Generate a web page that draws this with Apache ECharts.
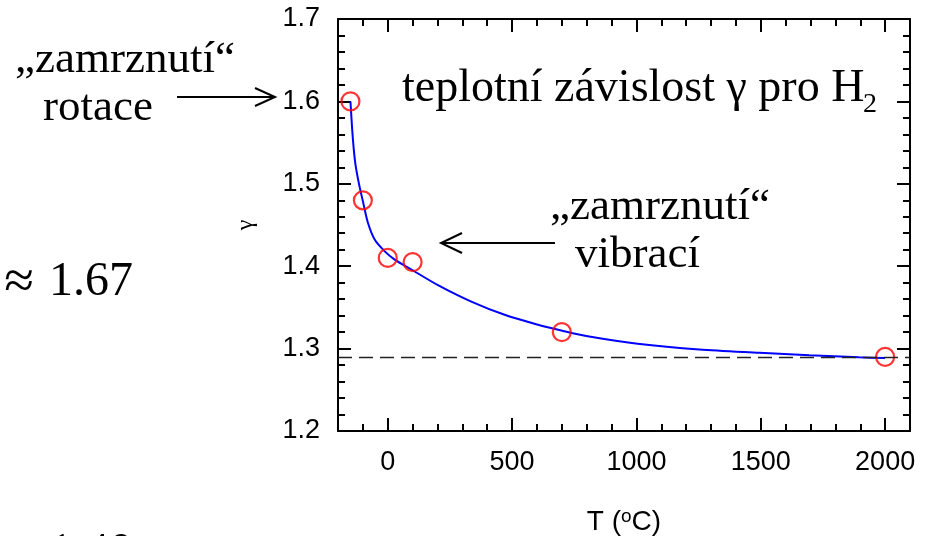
<!DOCTYPE html>
<html>
<head>
<meta charset="utf-8">
<title>teplotní závislost γ pro H2</title>
<script src="https://cdn.jsdelivr.net/npm/echarts@6/dist/echarts.min.js"></script>
<style>
    html, body { margin: 0; padding: 0; background: #fff; }
    #box { width: 927px; height: 536px; }
</style>
</head>
<body>
<div id="box"></div>
<script>
/*naměřené body*/
var measT = [-150, -100, 0, 100, 700, 2000];
var measGamma = [1.60, 1.48, 1.41, 1.405, 1.32, 1.29];

/*proložená křivka*/
var curveT = [-150, -140, -130, -115, -100, -80, -52, -12, 28, 95, 202, 336, 470, 604, 698, 804, 1005, 1253, 1495, 1695, 1895, 2000];
var curveGamma = [1.600, 1.554, 1.524, 1.499, 1.479, 1.453, 1.432, 1.418, 1.408, 1.396, 1.377, 1.357, 1.341, 1.329, 1.322, 1.315, 1.306, 1.299, 1.295, 1.292, 1.2895, 1.2885];

/*limitní hodnota 9/7*/
var limitGamma = 1.286;

/*popisky os*/
var xMajorTicks = [0, 500, 1000, 1500, 2000];

var makePairs = function (xs, ys) {
    var out = [];
    xs.forEach(function (x, i) {
        out.push([x, ys[i]]);
    });
    return out;
};

var black = '#000';
var tickStyle = { color: black, width: 2 };
var labelFont = { fontFamily: 'Liberation Sans', fontSize: 27, color: black };

/*x osy: jemné a hlavní dílky, dole i nahoře*/
var xMinor = function (pos) {
    return {
        type: 'value', position: pos, min: -200, max: 2100, interval: 100,
        axisLine: { onZero: false, lineStyle: tickStyle },
        axisTick: { inside: true, length: 7, lineStyle: tickStyle },
        axisLabel: { show: false },
        splitLine: { show: false }
    };
};
var xMajor = function (pos, withLabels) {
    var axis = {
        type: 'value', position: pos, min: -200, max: 2100,
        axisLine: { show: false, onZero: false },
        axisTick: { inside: true, length: 13, customValues: xMajorTicks, lineStyle: tickStyle },
        axisLabel: { show: withLabels, customValues: xMajorTicks, margin: 18,
            fontFamily: labelFont.fontFamily, fontSize: labelFont.fontSize, color: black,
            formatter: function (v) { return String(v); } },
        splitLine: { show: false }
    };
    if (withLabels) {
        axis.name = '{t|T (}{s|o}{t|C)}';
        axis.nameLocation = 'middle';
        axis.nameGap = 76;
        axis.nameTextStyle = {
            rich: {
                t: { fontFamily: 'Liberation Sans', fontSize: 28, color: black },
                s: { fontFamily: 'Liberation Sans', fontSize: 19, color: black, padding: [0, 0, 12, 0] }
            }
        };
    }
    return axis;
};
var yAxisOf = function (pos, withLabels) {
    var axis = {
        type: 'value', position: pos, min: 1.2, max: 1.7, interval: 0.1,
        axisLine: { onZero: false, lineStyle: tickStyle },
        axisTick: { inside: true, length: 13, lineStyle: tickStyle },
        minorTick: { show: true, splitNumber: 5, length: 7, lineStyle: tickStyle },
        axisLabel: { show: withLabels, margin: 18,
            fontFamily: labelFont.fontFamily, fontSize: labelFont.fontSize, color: black,
            formatter: function (v) { return v.toFixed(1); } },
        splitLine: { show: false }
    };
    if (withLabels) {
        axis.name = 'γ';
        axis.nameLocation = 'middle';
        axis.nameRotate = 90;
        axis.nameGap = 80;
        axis.nameTextStyle = { fontFamily: 'Liberation Serif', fontSize: 24, color: black };
    }
    return axis;
};

var serif = '"Liberation Serif", "Times New Roman", serif';
var textEl = function (text, x, y, size, align) {
    return {
        type: 'text', x: x, y: y, silent: true,
        style: { text: text, font: size + 'px ' + serif, fill: black,
            align: align || 'left', verticalAlign: 'middle' }
    };
};
var lineEl = function (points) {
    return {
        type: 'polyline', silent: true,
        shape: { points: points },
        style: { stroke: black, lineWidth: 2, fill: null }
    };
};

var box = document.getElementById('box');
var myChart = echarts.init(box);
var options = {
    animation: false,
    backgroundColor: '#fff',
    grid: { left: 338, right: 17, top: 19, bottom: 105, outerBoundsMode: 'none', containLabel: false },
    xAxis: [xMinor('bottom'), xMajor('bottom', true), xMinor('top'), xMajor('top', false)],
    yAxis: [yAxisOf('left', true), yAxisOf('right', false)],
    series: [
        {
            name: 'fit',
            type: 'line',
            xAxisIndex: 0,
            yAxisIndex: 0,
            data: makePairs(curveT, curveGamma),
            showSymbol: false,
            smooth: 0.3,
            lineStyle: { color: '#0000ff', width: 2 },
            z: 2,
            markLine: {
                silent: true,
                symbol: 'none',
                label: { show: false },
                lineStyle: { type: [14, 7], color: '#222', width: 1.3 },
                data: [{ yAxis: limitGamma }]
            }
        },
        {
            name: 'měření',
            type: 'scatter',
            xAxisIndex: 0,
            yAxisIndex: 0,
            data: makePairs(measT, measGamma),
            symbol: 'circle',
            symbolSize: 18,
            itemStyle: { color: 'rgba(0,0,0,0)', borderColor: '#ff0000', borderWidth: 2.2 },
            z: 3
        }
    ],
    graphic: [
        textEl('teplotní závislost γ pro H', 402, 89, 46),
        textEl('2', 863, 105, 28),
        textEl('„zamrznutí“', 15, 60, 45),
        textEl('rotace', 43, 108, 45),
        lineEl([[177, 97], [275, 97]]),
        lineEl([[255, 88], [275, 97], [255, 106]]),
        textEl('„zamrznutí“', 550, 207, 45),
        textEl('vibrací', 575, 255, 45),
        lineEl([[555, 243], [441, 243]]),
        lineEl([[462, 233], [441, 243], [462, 253]]),
        textEl('≈', 34, 284, 54, 'right'),
        textEl('1.67', 49, 282, 48),
        textEl('≈', 34, 555, 54, 'right'),
        textEl('1.40', 49, 553, 48)
    ]
};
myChart.setOption(options);
</script>
</body>
</html>
